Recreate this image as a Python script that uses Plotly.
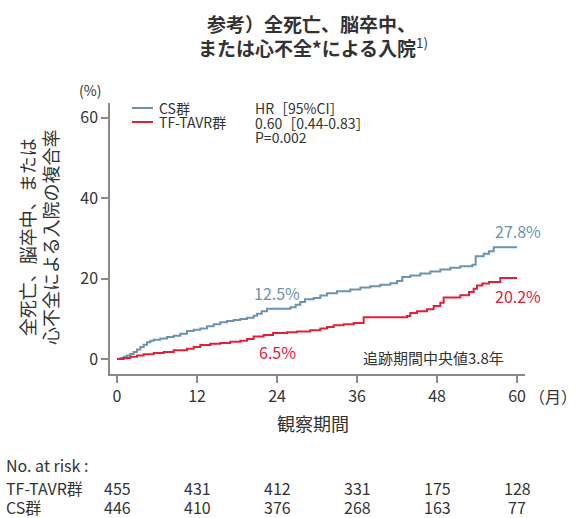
import plotly.graph_objects as go

# ---- data ----
cs_t = [0, 0.5, 1, 1.5, 2, 2.5, 3, 3.5, 4, 4.5, 5, 5.5, 6.5, 7.5, 8.5, 9.5, 10.5, 11.5, 12.5,
        13.5, 14.5, 15.5, 16.5, 17.5, 18.5, 19.5, 20.5, 21, 21.7, 22.5, 26, 26.8, 27.5, 28.2,
        29.5, 30.5, 31.5, 33, 35, 36.5, 38, 39.5, 41, 42, 42.8, 44, 45.5, 47, 48.5, 50, 51.5,
        53.3, 53.8, 55, 55.8, 56.5, 60]
cs_v = [0, 0.3, 0.6, 0.9, 1.3, 1.8, 2.4, 3.0, 3.6, 4.2, 4.6, 4.8, 5.1, 5.5, 5.8, 6.3, 7.0, 7.3, 7.6,
        8.2, 8.7, 9.2, 9.5, 9.7, 10.0, 10.3, 10.8, 11.3, 11.9, 12.5, 12.9, 13.5, 14.2, 14.9,
        15.2, 15.8, 16.4, 16.9, 17.3, 17.8, 18.1, 18.5, 18.9, 19.4, 20.4, 20.8, 21.3, 21.8, 22.3,
        22.7, 23.1, 23.5, 25.6, 26.2, 26.8, 27.8, 27.8]

tavr_t = [0, 1, 2, 3, 4, 5.5, 7, 8.5, 10.5, 11.5, 12.5, 14, 15.5, 17, 18.5, 19.5, 20.5, 22, 23.4,
          25.5, 27, 29, 30.5, 31.5, 32.5, 34, 35.5, 37, 43.5, 44, 45, 46.5, 47.5, 48.5, 49, 51.5,
          52.8, 53.5, 54, 54.8, 55.8, 57.5, 60]
tavr_v = [0, 0.3, 0.6, 0.9, 1.2, 1.5, 1.8, 2.2, 2.6, 3.0, 3.5, 3.8, 4.0, 4.3, 4.6, 5.0, 5.6, 6.0, 6.5,
          6.7, 6.9, 7.2, 7.6, 8.0, 8.4, 8.7, 9.0, 10.4, 10.7, 11.5, 11.9, 12.4, 13.2, 14.0, 15.3, 15.9,
          16.7, 17.5, 18.3, 18.8, 19.2, 20.2, 20.2]

x_ticks = [0, 12, 24, 36, 48, 60]
y_ticks = [0, 20, 40, 60]
risk_tavr = [455, 431, 412, 331, 175, 128]
risk_cs = [446, 410, 376, 268, 163, 77]

BLUE = "#6b93b0"
RED = "#e2203a"
TXT = "#333333"
AX = "#8a8a8a"
FONT = "Noto Sans CJK JP"

W, H = 581, 518
ML, MR, MT, MB = 110, 56, 103, 144
PW, PH = W - ML - MR, H - MT - MB


def px(p):
    return (p - ML) / PW


def py(p):
    return (H - MB - p) / PH


fig = go.Figure()
fig.add_trace(go.Scatter(x=cs_t, y=cs_v, mode="lines", line=dict(color=BLUE, width=2, shape="hv"),
                         name="CS群", showlegend=False))
fig.add_trace(go.Scatter(x=tavr_t, y=tavr_v, mode="lines", line=dict(color=RED, width=2, shape="hv"),
                         name="TF-TAVR群", showlegend=False))

fig.update_layout(
    width=W, height=H,
    margin=dict(l=ML, r=MR, t=MT, b=MB),
    paper_bgcolor="white", plot_bgcolor="white",
    font=dict(family=FONT, color=TXT, size=15),
    xaxis=dict(range=[-1.05, 61.2], tickvals=x_ticks, ticks="outside", ticklen=7, tickcolor=AX,
               tickwidth=1.5, showline=True, linecolor=AX, linewidth=1.5, showgrid=False,
               zeroline=False, tickfont=dict(size=16, color=TXT, family=FONT)),
    yaxis=dict(range=[-3.7, 63.7], tickvals=y_ticks, ticks="outside", ticklen=7, tickcolor=AX,
               tickwidth=1.5, showline=True, linecolor=AX, linewidth=1.5, showgrid=False,
               zeroline=False, tickfont=dict(size=16, color=TXT, family=FONT)),
)

ann = []


def pa(text, x, y, size, color=TXT, xanchor="center", **kw):
    ann.append(dict(text=text, x=px(x), y=py(y), xref="paper", yref="paper", xanchor=xanchor,
                    yanchor="middle", showarrow=False, font=dict(size=size, color=color), **kw))


def da(text, x, y, size, color=TXT):
    ann.append(dict(text=text, x=x, y=y, xref="x", yref="y", showarrow=False, yanchor="middle",
                    font=dict(size=size, color=color)))


# title
pa("<b>参考）全死亡、脳卒中、</b>", 311, 23, 19)
pa("<b>または心不全*による入院</b><sup>1)</sup>", 313, 47, 19)
# y axis title
pa("全死亡、脳卒中、または<br>心不全による入院の複合率", 38, 238, 18, textangle=-90)
pa("(%)", 90, 90, 14)
# x axis title and unit
pa("観察期間", 313, 423, 18)
pa("（月）", 553, 396, 16)
# curve labels
da("12.5%", 24, 16.5, 16, BLUE)
da("6.5%", 24, 1.7, 16, RED)
da("27.8%", 60.2, 31.8, 16, BLUE)
da("20.2%", 60.2, 15.6, 16, RED)
da("追跡期間中央値3.8年", 47.5, 0.4, 15)
# legend (manual)
pa("CS群", 157, 108, 14, xanchor="left")
pa("TF-TAVR群", 157, 122, 14, xanchor="left")
pa("HR［95%CI］", 253, 108, 14, xanchor="left")
pa("0.60［0.44-0.83］", 253, 123, 14, xanchor="left")
pa("P=0.002", 253, 137, 14, xanchor="left")
# risk table
pa("No. at risk :", 4, 465, 16, xanchor="left")
pa("TF-TAVR群", 4, 488, 16, xanchor="left")
pa("CS群", 4, 507, 16, xanchor="left")
for t, a, b in zip(x_ticks, risk_tavr, risk_cs):
    ann.append(dict(text=str(a), x=t, y=py(488), xref="x", yref="paper", showarrow=False,
                    yanchor="middle", font=dict(size=16, color=TXT)))
    ann.append(dict(text=str(b), x=t, y=py(507), xref="x", yref="paper", showarrow=False,
                    yanchor="middle", font=dict(size=16, color=TXT)))

fig.update_layout(annotations=ann)

# manual legend line swatches
for yy, col in ((108, BLUE), (122, RED)):
    fig.add_shape(type="line", xref="paper", yref="paper", x0=px(132), x1=px(153),
                  y0=py(yy), y1=py(yy), line=dict(color=col, width=2))

fig.write_html("out.html", config={"displayModeBar": False},
               post_script="document.body.style.margin='0px';")
